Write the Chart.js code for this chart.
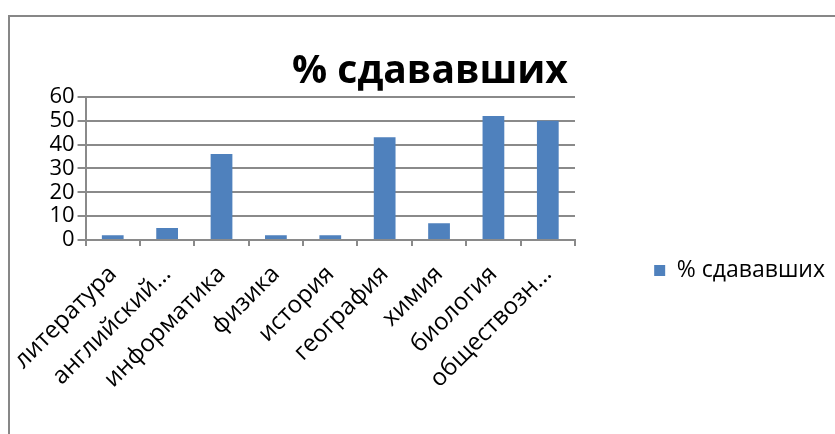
<!DOCTYPE html>
<html><head><meta charset="utf-8">
<script src="https://cdn.jsdelivr.net/npm/chart.js@4/dist/chart.umd.min.js"></script>
<style>html,body{margin:0;padding:0;background:#fff;}</style>
</head><body>
<canvas id="c" width="835" height="434"></canvas>
<script>
const categories = ['литература','английский…','информатика','физика','история','география','химия','биология','обществозн…'];
const seriesName = '% сдававших';
const values = [2, 5, 36, 2, 2, 43, 7, 52, 50];
const yTicks = [0, 10, 20, 30, 40, 50, 60];

const FONT = "'Open Sans', sans-serif";
const ySize = 22;
const xSize = 24;
const legendSize = 23;
const titleSize = 39;

// layout helpers (positions only)
const mctx = document.createElement('canvas').getContext('2d');
mctx.font = legendSize + "px " + FONT;
const legendTextW = mctx.measureText(seriesName).width;
const boxW = 11;
const itemW = boxW + legendSize / 2 + legendTextW;
const legendW = 835 - 575;
const legendPad = Math.max(5, legendW - 10 - itemW);
const legendItemTop = 259;
const legendTitleGap = legendItemTop - 10 - legendPad;
const xAxisH = 434 - 240;

const framePlugin = {
  id: 'frame',
  beforeDraw(chart) {
    const c = chart.ctx;
    c.save();
    c.fillStyle = '#fff';
    c.fillRect(0, 0, chart.width, chart.height);
    c.strokeStyle = '#878787';
    c.lineWidth = 2;
    c.strokeRect(9, 16, 900, 500);
    c.restore();
  }
};

new Chart(document.getElementById('c'), {
  type: 'bar',
  data: {
    labels: categories,
    datasets: [{
      label: seriesName,
      data: values,
      backgroundColor: '#4F81BD',
      borderWidth: 0,
      barPercentage: 0.4,
      categoryPercentage: 1.0
    }]
  },
  options: {
    responsive: false,
    animation: false,
    devicePixelRatio: 1,
    layout: { padding: { left: 25, right: 0, top: 0, bottom: 0 } },
    plugins: {
      title: {
        display: true,
        text: seriesName,
        color: '#000',
        font: { family: FONT, size: titleSize, weight: 'bold', lineHeight: 1.2 },
        padding: { top: 48, bottom: 2 }
      },
      legend: {
        position: 'right',
        align: 'start',
        maxWidth: legendW,
        title: { display: true, text: '', font: { family: FONT, size: 10, lineHeight: 1 }, padding: { top: legendTitleGap, bottom: 0 } },
        labels: {
          color: '#000',
          boxWidth: boxW,
          boxHeight: boxW,
          padding: legendPad,
          font: { family: FONT, size: legendSize }
        }
      },
      tooltip: { enabled: false }
    },
    scales: {
      x: {
        afterFit(s) { s.height = xAxisH; },
        grid: { display: true, drawOnChartArea: false, drawTicks: true, tickLength: 6, color: '#8a8a8a', lineWidth: 2, offset: true },
        border: { display: true, color: '#8a8a8a', width: 2 },
        ticks: { autoSkip: false, maxRotation: 45, minRotation: 45, color: '#000', padding: 14, font: { family: FONT, size: xSize } }
      },
      y: {
        min: 0, max: 60,
        afterFit(s) { s.width = 83 - 25; },
        afterBuildTicks(s) { s.ticks = yTicks.map(v => ({ value: v })); },
        grid: { color: '#8a8a8a', lineWidth: 2, tickLength: 8 },
        border: { display: true, color: '#8a8a8a', width: 2 },
        ticks: { autoSkip: false, color: '#000', padding: 3, font: { family: FONT, size: ySize } }
      }
    }
  },
  plugins: [framePlugin]
});
</script>
</body></html>
